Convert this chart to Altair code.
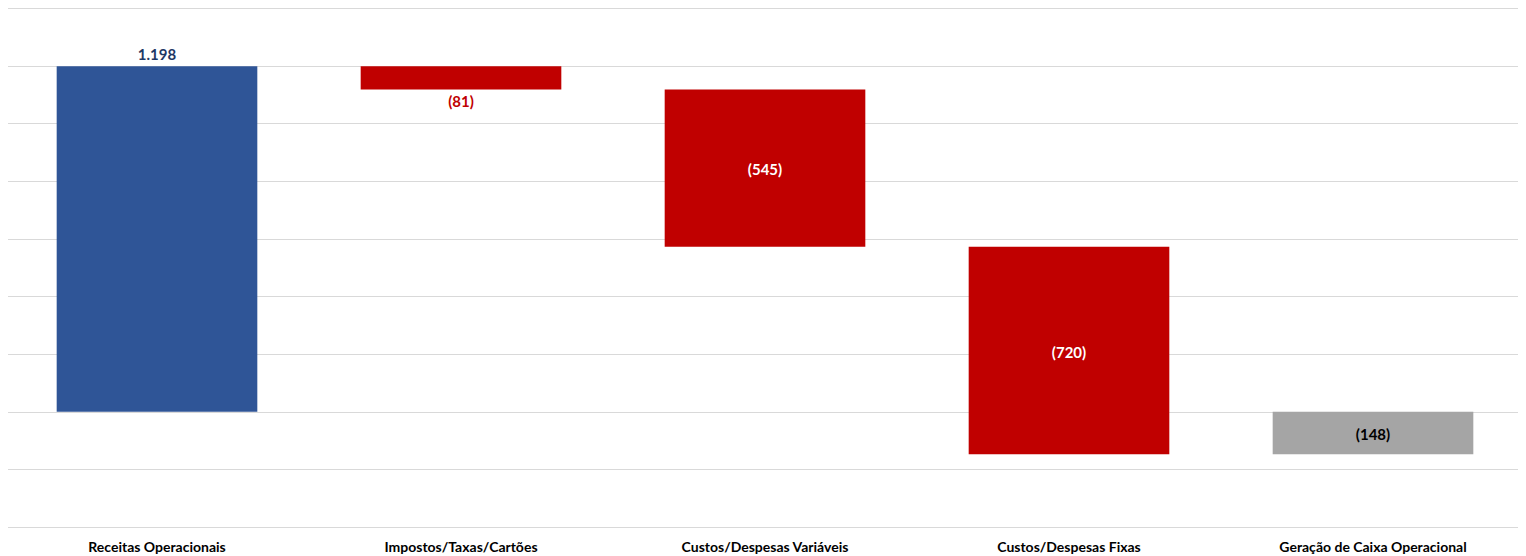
import altair as alt
import pandas as pd

categories = ["Receitas Operacionais", "Impostos/Taxas/Cartões", "Custos/Despesas Variáveis",
              "Custos/Despesas Fixas", "Geração de Caixa Operacional"]
values = [1198, -81, -545, -720, -148]
kinds = ["total", "delta", "delta", "delta", "total"]
bar_colors = ["#2F5597", "#C00000", "#C00000", "#C00000", "#A5A5A5"]
label_colors = ["#1F3864", "#C00000", "#FFFFFF", "#FFFFFF", "#000000"]
label_pos = ["top", "bottom", "mid", "mid", "mid"]

rows = []
running = 0
for c, v, k, bc, lc, lp in zip(categories, values, kinds, bar_colors, label_colors, label_pos):
    if k == "total":
        start, end = 0, v
        running = v
    else:
        start, end = running, running + v
        running = end
    txt = f"{v:,}".replace(",", ".") if v >= 0 else f"({abs(v)})"
    rows.append(dict(cat=c, start=start, end=end, mid=(start + end) / 2,
                     top=max(start, end), bottom=min(start, end),
                     color=bc, lcolor=lc, pos=lp, label=txt))
df = pd.DataFrame(rows)

FONT = "Lato"
x = alt.X("cat:N", sort=categories, title=None,
          scale=alt.Scale(paddingInner=0.34, paddingOuter=0.17),
          axis=alt.Axis(labelAngle=0, labelFont=FONT, labelFontWeight="bold", labelFontSize=14,
                        labelColor="#000000", domain=False, ticks=False, labelPadding=13,
                        labelLimit=400, grid=False))
yscale = alt.Scale(domain=[-400, 1400], nice=False)

base = alt.Chart(df)
bars = base.mark_bar().encode(
    x=x,
    y=alt.Y("start:Q", scale=yscale, title=None,
            axis=alt.Axis(values=list(range(-400, 1401, 200)), labels=False, ticks=False, domain=False,
                          grid=True, gridColor="#D9D9D9", gridWidth=1)),
    y2="end:Q",
    color=alt.Color("color:N", scale=None),
)

def text_layer(pos, field, dy, baseline):
    return base.transform_filter(alt.datum.pos == pos).mark_text(
        font=FONT, fontWeight="bold", fontSize=15, dy=dy, baseline=baseline
    ).encode(
        x=alt.X("cat:N", sort=categories),
        y=alt.Y(f"{field}:Q", scale=yscale),
        text="label:N",
        color=alt.Color("lcolor:N", scale=None),
    )

chart = alt.layer(
    bars,
    text_layer("top", "top", -3, "bottom"),
    text_layer("bottom", "bottom", 5, "top"),
    text_layer("mid", "mid", 2, "middle"),
).properties(
    width=1520, height=519,
    padding={"left": -3, "right": -7, "top": 0, "bottom": 0},
).configure_view(strokeWidth=0, stroke=None)

chart.save("out.html", embed_options={"renderer": "svg", "actions": False})
